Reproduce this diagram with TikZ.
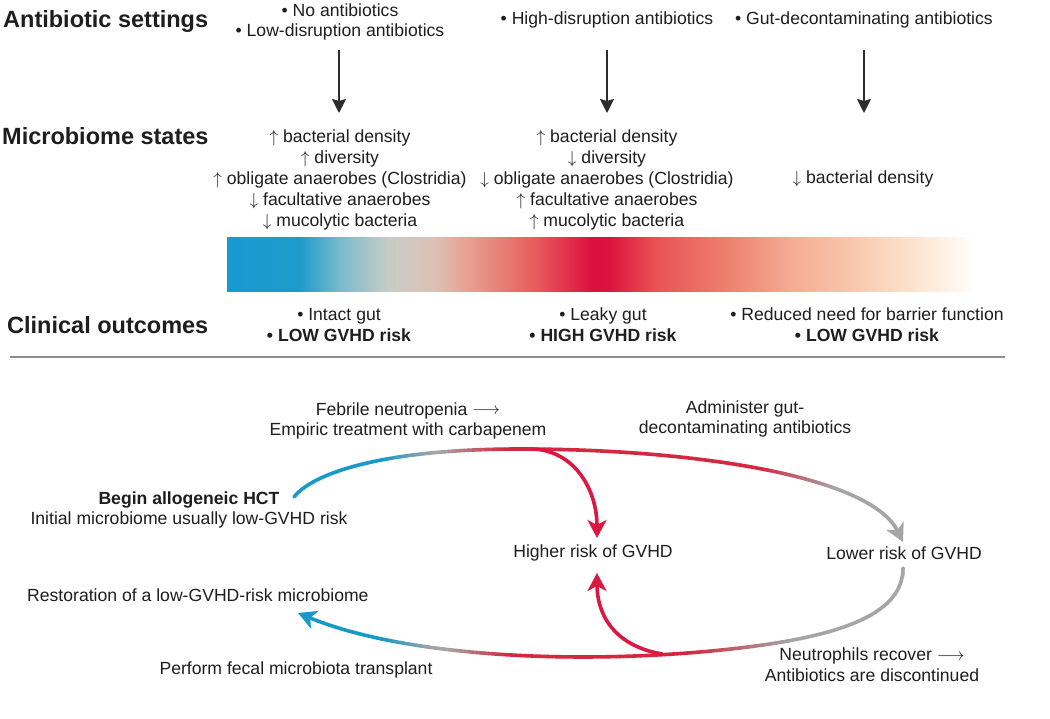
\documentclass[tikz,border=0pt]{standalone}
\usepackage{fontspec}
\setmainfont{Liberation Sans}
\usetikzlibrary{arrows.meta}
\definecolor{cblue}{RGB}{26,152,200}
\definecolor{cgray}{RGB}{165,165,165}
\definecolor{cred}{RGB}{212,40,64}
\definecolor{cdred}{RGB}{218,24,66}
\definecolor{txt}{RGB}{30,30,30}
\definecolor{arrowc}{RGB}{45,45,45}
\definecolor{sepc}{RGB}{140,140,140}
\newcommand\longarr{\raisebox{0.5pt}{$\longrightarrow$}}
\newcommand\upa{$\uparrow$}
\newcommand\dna{$\downarrow$}
\pgfdeclarehorizontalshading{barshade}{100bp}{rgb(0bp)=(0.09,0.6,0.82); rgb(25bp)=(0.09,0.6,0.82); rgb(29.9bp)=(0.12,0.61,0.80); rgb(32.55bp)=(0.47,0.73,0.80); rgb(35.7bp)=(0.78,0.80,0.78); rgb(38.77bp)=(0.86,0.76,0.71); rgb(41.04bp)=(0.91,0.63,0.57); rgb(45.45bp)=(0.91,0.37,0.37); rgb(49.47bp)=(0.86,0.06,0.24); rgb(50.6bp)=(0.86,0.08,0.24); rgb(53.74bp)=(0.91,0.33,0.33); rgb(58.16bp)=(0.93,0.49,0.43); rgb(62.63bp)=(0.96,0.67,0.57); rgb(69.32bp)=(0.98,0.85,0.75); rgb(73.53bp)=(1,0.96,0.92); rgb(75bp)=(1,1,1); rgb(100bp)=(1,1,1)}
\begin{document}
\begin{tikzpicture}[x=1pt,y=-1pt,
  body/.style={font=\fontsize{17.6}{20.8}\selectfont, text=txt, inner sep=0pt, align=center},
  header/.style={font=\fontsize{23.5}{28}\selectfont\bfseries, text=txt, inner sep=0pt, anchor=west},
  toparr/.style={draw=arrowc, line width=1.7pt, -{Stealth[length=14pt,width=14pt,inset=2pt]}},
  cyc/.style={line width=3.6pt, line cap=round},
  bigtip/.style={-{Stealth[length=18pt,width=19pt,inset=5pt]}}
]
\useasboundingbox (0,0) rectangle (1050,719);
\fill[white] (0,0) rectangle (1050,719);

% headers
\node[header] (h1) at (3,21) {Antibiotic settings};
\node[header] (h2) at (2,136) {Microbiome states};
\node[header] (h3) at (7,325) {Clinical outcomes};

% antibiotic settings
\node[body] (t1) at (340,22) {• No antibiotics\\• Low-disruption antibiotics};
\node[body] (t2) at (607,20) {• High-disruption antibiotics};
\node[body] (t3) at (864,20) {• Gut-decontaminating antibiotics};

% microbiome states
\node[body] (m1) at (340,180) {\upa\ bacterial density\\\upa\ diversity\\\upa\ obligate anaerobes (Clostridia)\\\dna\ facultative anaerobes\\\dna\ mucolytic bacteria};
\node[body] (m2) at (607,180) {\upa\ bacterial density\\\dna\ diversity\\\dna\ obligate anaerobes (Clostridia)\\\upa\ facultative anaerobes\\\upa\ mucolytic bacteria};
\node[body] (m3) at (863,179) {\dna\ bacterial density};

% arrows settings -> states
\coordinate (s1) at (339,50); \coordinate (e1) at (339,113);
\coordinate (s2) at (607,50); \coordinate (e2) at (607,113);
\coordinate (s3) at (864,50); \coordinate (e3) at (864,113);
\draw[toparr] (s1) -- (e1);
\draw[toparr] (s2) -- (e2);
\draw[toparr] (s3) -- (e3);

% gradient bar
\shade[shading=barshade] (227,238) rectangle (975,292);

% clinical outcomes
\node[body] (o1) at (339,325) {• Intact gut\\\textbf{• LOW GVHD risk}};
\node[body] (o2) at (603,325) {• Leaky gut\\\textbf{• HIGH GVHD risk}};
\node[body] (o3) at (867,325) {• Reduced need for barrier function\\\textbf{• LOW GVHD risk}};

% separator
\draw[sepc, line width=1.5pt] (10,357) -- (1005,357);

% bottom texts
\node[body] (feb) at (408,421) {Febrile neutropenia \longarr\\Empiric treatment with carbapenem};
\node[body] (adm) at (745,419) {Administer gut-\\decontaminating antibiotics};
\node[body] (hct) at (189,510) {\textbf{Begin allogeneic HCT}\\Initial microbiome usually low-GVHD risk};
\node[body] (hi) at (593,553) {Higher risk of GVHD};
\node[body] (lo) at (904,553) {Lower risk of GVHD};
\node[body, anchor=west] (rest) at (27,595) {Restoration of a low-GVHD-risk microbiome};
\node[body] (fmt) at (296,670) {Perform fecal microbiota transplant};
\node[body] (neu) at (872,665) {Neutrophils recover \longarr\\Antibiotics are discontinued};

% cycle coordinates
\coordinate (hs) at (294,497);
\coordinate (tj) at (520,449);
\coordinate (le) at (903,542);
\coordinate (lb) at (903,568);
\coordinate (bj) at (700,652);
\coordinate (re) at (298,613);
\coordinate (bd) at (533,449);
\coordinate (hiT) at (597,538);
\coordinate (bu) at (662,654);
\coordinate (hiB) at (597,573);

% gradient-coloured cycle curves, drawn in vertical strips
\foreach \x in {284,288,...,916} {
  \pgfmathsetmacro\xm{\x+2}
  \pgfmathsetmacro\sT{min(0,max(-1,-1+(\xm-383)/50)) + max(0,min(1,(\xm-440)/65,1-(\xm-760)/75))}
  \pgfmathsetmacro\sB{min(0,max(-1,-1+(\xm-383)/50)) + max(0,min(1,(\xm-448)/60,1-(\xm-690)/100))}
  \pgfmathtruncatemacro\pbT{max(0,-\sT)*100}
  \pgfmathtruncatemacro\prT{max(0,\sT)*100}
  \pgfmathtruncatemacro\pbB{max(0,-\sB)*100}
  \pgfmathtruncatemacro\prB{max(0,\sB)*100}
  \colorlet{tmpT}{cblue!\pbT!cgray}\colorlet{colT}{cred!\prT!tmpT}
  \colorlet{tmpB}{cblue!\pbB!cgray}\colorlet{colB}{cred!\prB!tmpB}
  \begin{scope}
    \clip (\x,380) rectangle ({\x+4.4},705);
    \draw[cyc, colT, bigtip] (hs) .. controls (312,474) and (380,449) .. (tj) .. controls (690,449) and (870,475) .. (le);
    \draw[cyc, colB, bigtip] (lb) .. controls (903,615) and (840,640) .. (bj) .. controls (560,664) and (400,655) .. (re);
  \end{scope}
}

% red branches to higher risk
\draw[cyc, cdred, bigtip] (bd) .. controls (575,451) and (597,490) .. (hiT);
\draw[cyc, cdred, bigtip] (bu) .. controls (610,645) and (597,610) .. (hiB);
\end{tikzpicture}
\end{document}
